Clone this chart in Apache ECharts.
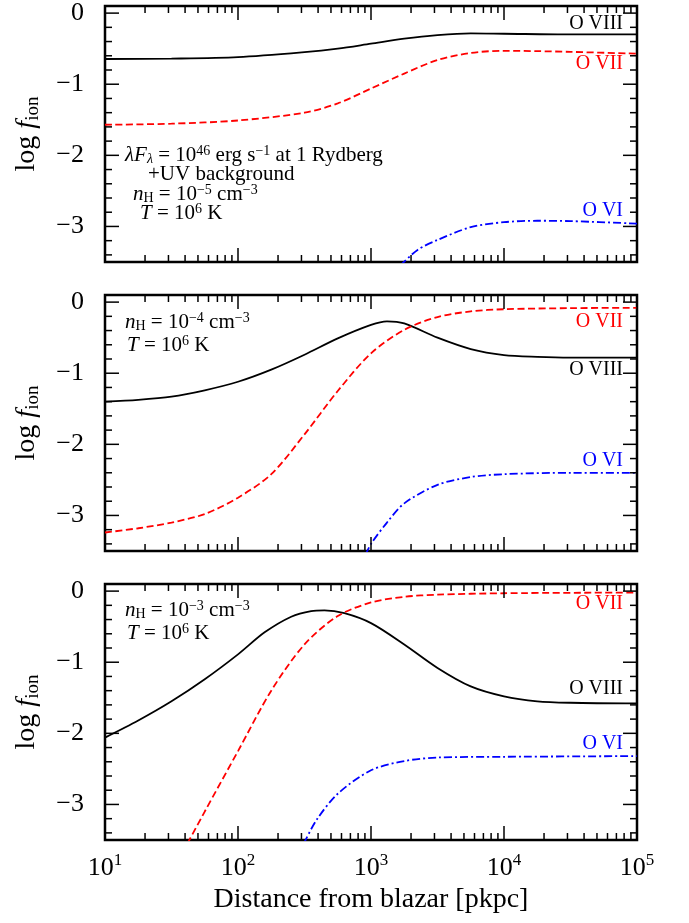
<!DOCTYPE html>
<html>
<head>
<meta charset="utf-8">
<script src="https://cdn.jsdelivr.net/npm/echarts@6/dist/echarts.min.js"></script>
<style>
  html, body { margin: 0; background: #fff; }
  #main { width: 689px; height: 923px; }
</style>
</head>
<body>
<div id="main"></div>
<script>
// x = log10(distance / pkpc), y = log f_ion

// panel 1 : n_H = 1e-5
var p1_o8_lx = [1, 1.5, 2, 2.5, 2.75, 3, 3.25, 3.5, 3.75, 4, 4.5, 5];
var p1_o8_f  = [-0.645, -0.64, -0.62, -0.55, -0.5, -0.43, -0.36, -0.31, -0.285, -0.29, -0.3, -0.3];
var p1_o7_lx = [1, 1.5, 2, 2.5, 2.75, 3, 3.25, 3.5, 3.75, 4, 4.25, 4.5, 5];
var p1_o7_f  = [-1.57, -1.555, -1.51, -1.4, -1.27, -1.06, -0.85, -0.66, -0.56, -0.53, -0.535, -0.545, -0.57];
var p1_o6_lx = [3.22, 3.35, 3.5, 3.75, 4, 4.25, 4.5, 5];
var p1_o6_f  = [-3.55, -3.33, -3.19, -3.01, -2.94, -2.92, -2.925, -2.96];

// panel 2 : n_H = 1e-4
var p2_o8_lx = [1, 1.25, 1.5, 1.75, 2, 2.25, 2.5, 2.75, 3, 3.12, 3.25, 3.5, 3.75, 4, 4.25, 4.5, 5];
var p2_o8_f  = [-1.4, -1.375, -1.33, -1.24, -1.12, -0.95, -0.74, -0.51, -0.32, -0.27, -0.3, -0.5, -0.66, -0.745, -0.77, -0.78, -0.78];
var p2_o7_lx = [1, 1.25, 1.5, 1.75, 2, 2.25, 2.5, 2.75, 3, 3.25, 3.5, 3.75, 4, 4.5, 5];
var p2_o7_f  = [-3.24, -3.18, -3.1, -2.98, -2.75, -2.42, -1.86, -1.25, -0.72, -0.39, -0.21, -0.13, -0.1, -0.085, -0.08];
var p2_o6_lx = [2.96, 3, 3.12, 3.25, 3.5, 3.75, 4, 4.5, 5];
var p2_o6_f  = [-3.55, -3.4, -3.1, -2.83, -2.57, -2.46, -2.42, -2.4, -2.4];

// panel 3 : n_H = 1e-3
var p3_o8_lx = [1, 1.25, 1.5, 1.75, 2, 2.2, 2.4, 2.55, 2.65, 2.8, 3, 3.25, 3.5, 3.75, 4, 4.25, 4.5, 5];
var p3_o8_f  = [-2.06, -1.82, -1.55, -1.24, -0.89, -0.58, -0.36, -0.28, -0.27, -0.31, -0.45, -0.75, -1.08, -1.34, -1.48, -1.55, -1.57, -1.58];
var p3_o7_lx = [1.62, 1.75, 2, 2.25, 2.5, 2.75, 3, 3.25, 3.5, 4, 5];
var p3_o7_f  = [-3.55, -3.1, -2.25, -1.4, -0.75, -0.35, -0.16, -0.08, -0.05, -0.03, -0.02];
var p3_o6_lx = [2.495, 2.59, 2.75, 3, 3.25, 3.5, 4, 5];
var p3_o6_f  = [-3.55, -3.22, -2.85, -2.52, -2.39, -2.34, -2.33, -2.32];

// axis ticks
var xMajorTicks = [10, 100, 1000, 10000, 100000];
var xMinorTicks = [20, 30, 40, 50, 60, 70, 80, 90,
  200, 300, 400, 500, 600, 700, 800, 900,
  2000, 3000, 4000, 5000, 6000, 7000, 8000, 9000,
  20000, 30000, 40000, 50000, 60000, 70000, 80000, 90000];
var yMajorTicks = [0, -1, -2, -3];
var yMinorTicks = [-0.2, -0.4, -0.6, -0.8, -1.2, -1.4, -1.6, -1.8, -2.2, -2.4, -2.6, -2.8, -3.2, -3.4];
var Y_MIN = -3.5, Y_MAX = 0.1, X_MIN = 10, X_MAX = 100000;

var FONT = 'Liberation Serif';
var chart = echarts.init(document.getElementById('main'));

var gridTops = [6, 295, 584];
var panels = [
  { o8: [p1_o8_lx, p1_o8_f], o7: [p1_o7_lx, p1_o7_f], o6: [p1_o6_lx, p1_o6_f] },
  { o8: [p2_o8_lx, p2_o8_f], o7: [p2_o7_lx, p2_o7_f], o6: [p2_o6_lx, p2_o6_f] },
  { o8: [p3_o8_lx, p3_o8_f], o7: [p3_o7_lx, p3_o7_f], o6: [p3_o6_lx, p3_o6_f] }
];

function toData(pair) {
  return pair[0].map(function (lx, i) { return [Math.pow(10, lx), pair[1][i]]; });
}

var rich = {
  n: { fontFamily: FONT, fontSize: 26, color: '#000', lineHeight: 32 },
  s: { fontFamily: FONT, fontSize: 17, color: '#000', lineHeight: 17, verticalAlign: 'top' },
  i: { fontFamily: FONT, fontSize: 28, color: '#000', fontStyle: 'italic', lineHeight: 32 },
  l: { fontFamily: FONT, fontSize: 28, color: '#000', lineHeight: 32 },
  b: { fontFamily: FONT, fontSize: 19, color: '#000', lineHeight: 14, verticalAlign: 'bottom' }
};

var grids = [], xAxes = [], yAxes = [], series = [];
gridTops.forEach(function (top, k) {
  grids.push({ left: 105, width: 532, top: top, height: 256, show: true,
    borderColor: '#000', borderWidth: 2.5, backgroundColor: 'transparent' });
  xAxes.push({
    type: 'log', logBase: 10, gridIndex: k, min: X_MIN, max: X_MAX,
    axisLine: { show: false }, axisTick: { show: false }, splitLine: { show: false },
    axisLabel: {
      show: k === 2, margin: 12,
      formatter: function (v) { return '{n|10}{s|' + Math.round(Math.log10(v)) + '}'; },
      rich: rich
    },
    name: k === 2 ? 'Distance from blazar [pkpc]' : '',
    nameLocation: 'middle', nameGap: 46,
    nameTextStyle: { fontFamily: FONT, fontSize: 28, color: '#000' }
  });
  yAxes.push({
    type: 'value', gridIndex: k, min: Y_MIN, max: Y_MAX,
    axisLine: { show: false }, axisTick: { show: false }, splitLine: { show: false },
    axisLabel: {
      margin: 21, customValues: yMajorTicks,
      fontFamily: FONT, fontSize: 26, color: '#000',
      formatter: function (v) { return v === 0 ? '0' : '\u2212' + Math.abs(Math.round(v)); }
    },
    name: '{l|log }{i|f}{b|ion}',
    nameLocation: 'middle', nameGap: 62, nameRotate: 90,
    nameTextStyle: { rich: rich }
  });

  var p = panels[k];
  series.push({ type: 'line', xAxisIndex: k, yAxisIndex: k, data: toData(p.o8),
    showSymbol: false, smooth: 0.3, clip: true, silent: true,
    lineStyle: { color: '#000', width: 1.8 } });
  series.push({ type: 'line', xAxisIndex: k, yAxisIndex: k, data: toData(p.o7),
    showSymbol: false, smooth: 0.3, clip: true, silent: true,
    lineStyle: { color: '#ff0000', width: 1.8, type: [7, 3.5] } });
  series.push({ type: 'line', xAxisIndex: k, yAxisIndex: k, data: toData(p.o6),
    showSymbol: false, smooth: 0.3, clip: true, silent: true,
    lineStyle: { color: '#0000ff', width: 1.8, type: [8, 3, 2, 3] } });

  // inward ticks on all four sides
  var tickData = [];
  xMajorTicks.forEach(function (v) { tickData.push([v, Y_MIN, 0, 1]); });
  xMinorTicks.forEach(function (v) { tickData.push([v, Y_MIN, 0, 0]); });
  yMajorTicks.forEach(function (v) { tickData.push([X_MIN, v, 1, 1]); });
  yMinorTicks.forEach(function (v) { tickData.push([X_MIN, v, 1, 0]); });
  series.push({
    type: 'custom', xAxisIndex: k, yAxisIndex: k, silent: true, clip: false, z: 5,
    data: tickData,
    renderItem: function (params, api) {
      var cs = params.coordSys;
      var pt = api.coord([api.value(0), api.value(1)]);
      var len = api.value(3) ? 14 : 7;
      var st = { stroke: '#000', lineWidth: 1.5 };
      if (api.value(2) === 0) {
        var yb = cs.y + cs.height;
        return { type: 'group', children: [
          { type: 'line', shape: { x1: pt[0], y1: yb, x2: pt[0], y2: yb - len }, style: st },
          { type: 'line', shape: { x1: pt[0], y1: cs.y, x2: pt[0], y2: cs.y + len }, style: st }
        ] };
      }
      var xr = cs.x + cs.width;
      return { type: 'group', children: [
        { type: 'line', shape: { x1: cs.x, y1: pt[1], x2: cs.x + len, y2: pt[1] }, style: st },
        { type: 'line', shape: { x1: xr, y1: pt[1], x2: xr - len, y2: pt[1] }, style: st }
      ] };
    }
  });
});

var tRich = {
  n: { fontFamily: FONT, fontSize: 21, color: '#000', lineHeight: 22 },
  i: { fontFamily: FONT, fontSize: 21, color: '#000', fontStyle: 'italic', lineHeight: 22 },
  s: { fontFamily: FONT, fontSize: 14, color: '#000', lineHeight: 12, verticalAlign: 'top' },
  b: { fontFamily: FONT, fontSize: 14, color: '#000', lineHeight: 9, verticalAlign: 'bottom' },
  bi: { fontFamily: FONT, fontSize: 14, color: '#000', fontStyle: 'italic', lineHeight: 9, verticalAlign: 'bottom' }
};

function note(x, y, text) {
  return { type: 'text', left: x, top: y - 11, z: 10, silent: true,
    style: { text: text, rich: tRich, fill: '#000' } };
}
function ion(y, text, color) {
  return { type: 'text', right: 689 - 623, top: y - 11, z: 10, silent: true,
    style: { text: text, fill: color, fontFamily: FONT, fontSize: 20, textAlign: 'right' } };
}

var graphics = [
  note(125, 155, '{i|\u03bbF}{bi|\u03bb}{n| = 10}{s|46}{n| erg s}{s|\u22121}{n| at 1 Rydberg}'),
  note(148, 175, '{n|+UV background}'),
  note(133, 194, '{i|n}{b|H}{n| = 10}{s|\u22125}{n| cm}{s|\u22123}'),
  note(140, 213, '{i|T}{n| = 10}{s|6}{n| K}'),
  note(125, 322, '{i|n}{b|H}{n| = 10}{s|\u22124}{n| cm}{s|\u22123}'),
  note(127, 345, '{i|T}{n| = 10}{s|6}{n| K}'),
  note(125, 610, '{i|n}{b|H}{n| = 10}{s|\u22123}{n| cm}{s|\u22123}'),
  note(127, 633, '{i|T}{n| = 10}{s|6}{n| K}'),
  ion(25, 'O VIII', '#000'),
  ion(65, 'O VII', '#ff0000'),
  ion(212, 'O VI', '#0000ff'),
  ion(323, 'O VII', '#ff0000'),
  ion(371, 'O VIII', '#000'),
  ion(462, 'O VI', '#0000ff'),
  ion(605, 'O VII', '#ff0000'),
  ion(690, 'O VIII', '#000'),
  ion(745, 'O VI', '#0000ff')
];

chart.setOption({
  animation: false,
  backgroundColor: '#fff',
  grid: grids,
  xAxis: xAxes,
  yAxis: yAxes,
  series: series,
  graphic: graphics
});
</script>
</body>
</html>
